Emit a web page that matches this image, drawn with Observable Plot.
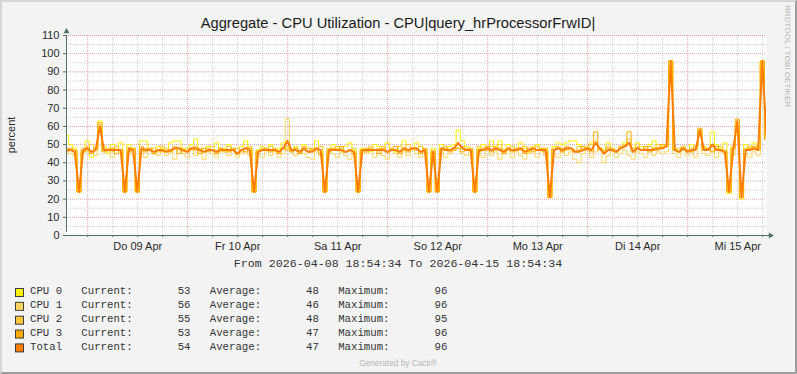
<!DOCTYPE html>
<html><head><meta charset="utf-8">
<script src="https://cdn.jsdelivr.net/npm/d3@7"></script>
<script src="https://cdn.jsdelivr.net/npm/@observablehq/plot@0.6"></script>
<style>
html,body{margin:0;padding:0;background:#fff;}
#wrap{position:relative;width:797px;height:374px;background:#f3f3f3;overflow:hidden;}
#wrap svg{position:absolute;left:0;top:0;}
#border{position:absolute;left:0;top:0;width:797px;height:374px;box-sizing:border-box;border-style:solid;border-width:2px;border-color:#d6d6d6 #9e9e9e #9e9e9e #d6d6d6;pointer-events:none;}
</style></head><body><div id="wrap"></div>
<script>
// ---- chart text ----
const title = "Aggregate - CPU Utilization - CPU|query_hrProcessorFrwID|";
const yLabel = "percent";
const periodText = "From 2026-04-08 18:54:34 To 2026-04-15 18:54:34";
const footer = "Generated by Cacti\u00AE";
const watermark = "RRDTOOL / TOBI OETIKER";

// ---- time range (hourly samples) ----
const startUTC = Date.UTC(2026, 3, 8, 18, 54, 34);
const spanHours = 168;

// ---- axes ----
const yTicks = [0, 10, 20, 30, 40, 50, 60, 70, 80, 90, 100, 110];
const yMinor = [5, 15, 25, 35, 45, 55, 65, 75, 85, 95, 105];
const xLabels = ["Do 09 Apr", "Fr 10 Apr", "Sa 11 Apr", "So 12 Apr", "Mo 13 Apr", "Di 14 Apr", "Mi 15 Apr"];

// ---- series ----
const seriesNames = ["CPU 0", "CPU 1", "CPU 2", "CPU 3", "Total"];
const seriesColors = ["#FFF200", "#FFD660", "#FFC73B", "#FFAB00", "#FF7D00"];

const cpu0 = [
 55,50,48,25,46,52,43,47,63,49,45,50,47,51,25,50,48,24,52,52,47,46,49,48,
 46,51,52,52,48,47,50,53,48,46,49,47,51,46,48,50,47,45,49,52,48,25,47,49,
 47,50,46,48,51,48,47,49,46,50,48,47,52,49,24,47,50,48,46,49,51,47,25,48,
 48,46,50,49,47,51,48,46,49,52,47,48,51,49,47,24,48,25,50,47,49,50,58,52,
 49,47,24,48,50,47,52,49,52,47,50,49,47,51,48,46,49,50,47,48,21,49,51,50,
 51,52,52,50,47,49,51,50,48,47,51,48,46,49,51,50,48,51,49,47,50,52,48,49,
 50,96,48,46,49,47,50,48,57,49,48,57,50,48,51,23,49,55,20,50,48,51,49,96,
 53];
const cpu1 = [
 47,45,44,24,48,46,50,44,60,47,46,43,48,45,24,47,44,25,46,43,48,45,44,47,
 44,46,42,47,45,43,48,44,46,42,47,45,43,48,46,44,47,43,45,46,44,24,45,43,
 46,44,47,43,45,64,46,44,47,45,43,42,46,44,24,47,45,43,46,44,42,45,24,46,
 45,47,43,46,44,42,47,45,43,46,44,48,45,43,46,25,44,24,46,43,45,47,48,45,
 44,46,25,45,43,47,44,46,42,45,47,43,46,44,42,45,47,43,46,44,21,45,43,46,
 44,46,42,40,45,47,43,46,48,40,44,46,43,45,47,44,42,46,45,43,47,44,46,45,
 46,96,45,43,47,44,46,43,56,45,44,47,43,46,45,24,44,58,22,45,43,46,44,95,
 56];
const cpu2 = [
 48,47,46,24,47,49,46,48,61,47,48,46,49,47,24,48,47,24,49,48,47,48,46,49,
 48,47,49,48,46,48,47,49,48,46,48,49,47,48,46,49,47,48,46,48,49,24,47,48,
 47,49,48,46,48,49,47,48,46,49,48,47,48,49,24,48,47,49,48,46,47,48,24,47,
 48,49,47,48,49,46,48,47,49,48,50,47,48,49,46,24,47,25,48,49,47,48,50,49,
 48,47,24,49,48,47,49,48,50,47,48,49,47,48,49,46,48,49,47,48,21,48,49,48,
 49,48,47,49,48,47,50,52,48,47,49,48,47,49,50,53,48,49,47,48,49,48,50,48,
 49,95,47,48,49,47,48,49,58,48,47,50,48,49,47,24,48,60,21,48,49,47,48,95,
 55];
const cpu3 = [
 46,48,47,24,46,47,45,48,62,46,47,48,45,47,24,46,48,24,47,46,48,45,47,46,
 47,46,48,45,47,46,48,47,45,48,46,47,45,48,47,46,48,45,47,46,48,24,46,47,
 48,46,47,45,48,47,46,48,45,47,46,48,47,45,24,46,48,47,49,46,47,45,24,47,
 46,48,47,45,48,46,47,49,45,47,46,48,47,45,48,24,46,24,47,48,46,47,48,46,
 47,48,24,46,47,49,46,47,48,45,47,46,48,47,45,48,46,47,48,46,21,47,48,46,
 47,48,46,47,49,48,46,57,47,46,48,47,46,48,49,57,46,48,47,49,46,48,47,50,
 50,96,47,46,48,47,46,49,59,47,48,46,49,47,46,24,48,64,21,47,48,49,47,96,
 53];
const total = [
 47,47,46,24,47,48,46,47,60,47,47,47,47,47,24,48,47,24,48,47,47,46,47,47,
 46,47,48,48,47,46,48,48,47,46,47,47,46,47,47,47,47,45,47,48,47,24,46,47,
 47,47,47,46,48,52,47,47,46,48,46,46,48,47,24,47,47,47,47,46,47,46,24,47,
 47,47,47,47,47,46,47,47,46,48,47,48,48,46,47,24,46,24,48,47,47,48,51,48,
 47,47,24,47,47,48,47,48,47,46,48,47,47,48,46,47,48,47,47,47,21,47,48,47,
 48,48,46,46,47,48,47,51,48,45,47,47,46,48,49,51,46,48,47,47,47,47,48,48,
 49,96,47,46,48,46,47,47,58,47,47,50,47,47,46,24,47,63,21,47,47,48,47,96,
 54];

// ---- legend statistics ----
const current = [53, 56, 55, 53, 54];
const average = [48, 46, 48, 47, 47];
const maximum = [96, 96, 95, 96, 96];

// ---- build ----
const allSeries = [cpu0, cpu1, cpu2, cpu3, total];
const HOUR = 3600e3;
const t0 = new Date(startUTC), t1 = new Date(startUTC + spanHours * HOUR);
const tables = allSeries.map((vals, s) => vals.map((v, i) => ({t: new Date(startUTC + i * HOUR), v, s: seriesNames[s]})));

const midnights = d3.utcDay.range(t0, t1);
const sixHours = d3.utcHour.every(6).range(t0, t1).filter(d => d.getUTCHours() !== 0);
const noons = midnights.map(d => d3.utcHour.offset(d, 12)).filter(d => d < t1);
const labelMap = new Map(noons.map((d, i) => [+d, xLabels[i]]));

const axisColor = "#50706a";
const majorGrid = "#e3a3a3";
const minorGrid = "#cdcdcd";

const chart = Plot.plot({
  width: 797, height: 260,
  marginLeft: 66, marginRight: 31, marginTop: 35, marginBottom: 25,
  style: {background: "transparent", fontFamily: "'Liberation Sans', Arial, sans-serif", fontSize: "11px", color: "#2a2a2a", overflow: "visible"},
  x: {type: "utc", domain: [t0, t1]},
  y: {domain: [0, 110]},
  marks: [
    Plot.frame({fill: "#ffffff", stroke: "none"}),
    Plot.ruleY(yMinor, {stroke: minorGrid, strokeDasharray: "1,1"}),
    Plot.ruleX(sixHours, {stroke: minorGrid, strokeDasharray: "1,1"}),
    Plot.ruleY(yTicks.slice(1), {stroke: majorGrid, strokeDasharray: "1,1"}),
    Plot.ruleX(midnights, {stroke: majorGrid, strokeDasharray: "1,1"}),
    ...tables.map((tb, s) => Plot.line(tb, {x: "t", y: "v", stroke: seriesColors[s], strokeWidth: s === 4 ? 2 : 1, curve: s === 4 ? "linear" : "step", clip: true})),
    Plot.axisY({ticks: yTicks, tickSize: 3, tickPadding: 4, stroke: axisColor, label: null, tickFormat: d => String(d)}),
    Plot.axisX({ticks: midnights.concat(sixHours), tickSize: 2, tickFormat: () => "", stroke: axisColor, label: null}),
    Plot.axisX({ticks: noons, tickSize: 0, tickPadding: 7, tickFormat: d => labelMap.get(+d), label: null}),
    Plot.ruleY([0], {stroke: axisColor, insetRight: -3}),
    Plot.ruleX([t0], {y1: 0, y2: 110, stroke: axisColor, insetTop: -3}),
    Plot.dot([t1], {x: d => d, y: () => 0, symbol: "triangle", rotate: 90, r: 2.2, fill: axisColor, stroke: "none", dx: 4}),
    Plot.dot([t0], {x: d => d, y: () => 110, symbol: "triangle", r: 2.2, fill: axisColor, stroke: "none", dy: -4})
  ]
});
const wrap = document.getElementById("wrap");
wrap.appendChild(chart);

// ---- overlay texts ----
const svg = d3.select(wrap).append("svg").attr("width", 797).attr("height", 374).style("pointer-events", "none");
const sans = "'Liberation Sans', Arial, sans-serif";
const mono = "'Liberation Mono', 'Courier New', monospace";

svg.append("text").attr("x", 398).attr("y", 28).attr("text-anchor", "middle")
  .attr("font-family", sans).attr("font-size", 14.7).attr("fill", "#1a1a1a").text(title);
svg.append("text").attr("transform", "translate(15,135) rotate(-90)").attr("text-anchor", "middle")
  .attr("font-family", sans).attr("font-size", 11).attr("fill", "#2a2a2a").text(yLabel);
svg.append("text").attr("transform", "translate(785,5) rotate(90)")
  .attr("font-family", sans).attr("font-size", 8.1).attr("fill", "#b4b4b4").text(watermark);
svg.append("text").attr("x", 398).attr("y", 266.7).attr("text-anchor", "middle")
  .attr("font-family", mono).attr("font-size", 11.65).attr("fill", "#333").text(periodText);

const cw = 6.42, x0 = 30;
seriesNames.forEach((name, i) => {
  const yb = 294.3 + i * 13.85;
  svg.append("rect").attr("x", 15.5).attr("y", yb - 5.8).attr("width", 8).attr("height", 8)
    .attr("fill", seriesColors[i]).attr("stroke", "#3c3c3c");
  const g = svg.append("g").attr("font-family", mono).attr("font-size", 10.7).attr("fill", "#333");
  g.append("text").attr("x", x0).attr("y", yb).text(name);
  g.append("text").attr("x", x0 + 8 * cw).attr("y", yb).text("Current:");
  g.append("text").attr("x", x0 + 25 * cw).attr("y", yb).attr("text-anchor", "end").text(current[i]);
  g.append("text").attr("x", x0 + 28 * cw).attr("y", yb).text("Average:");
  g.append("text").attr("x", x0 + 45 * cw).attr("y", yb).attr("text-anchor", "end").text(average[i]);
  g.append("text").attr("x", x0 + 48 * cw).attr("y", yb).text("Maximum:");
  g.append("text").attr("x", x0 + 65 * cw).attr("y", yb).attr("text-anchor", "end").text(maximum[i]);
});

svg.append("text").attr("x", 398).attr("y", 366.3).attr("text-anchor", "middle")
  .attr("font-family", sans).attr("font-size", 8.3).attr("fill", "#b8b8b8").text(footer);

const border = document.createElement("div");
border.id = "border";
wrap.appendChild(border);
</script>
</body></html>
